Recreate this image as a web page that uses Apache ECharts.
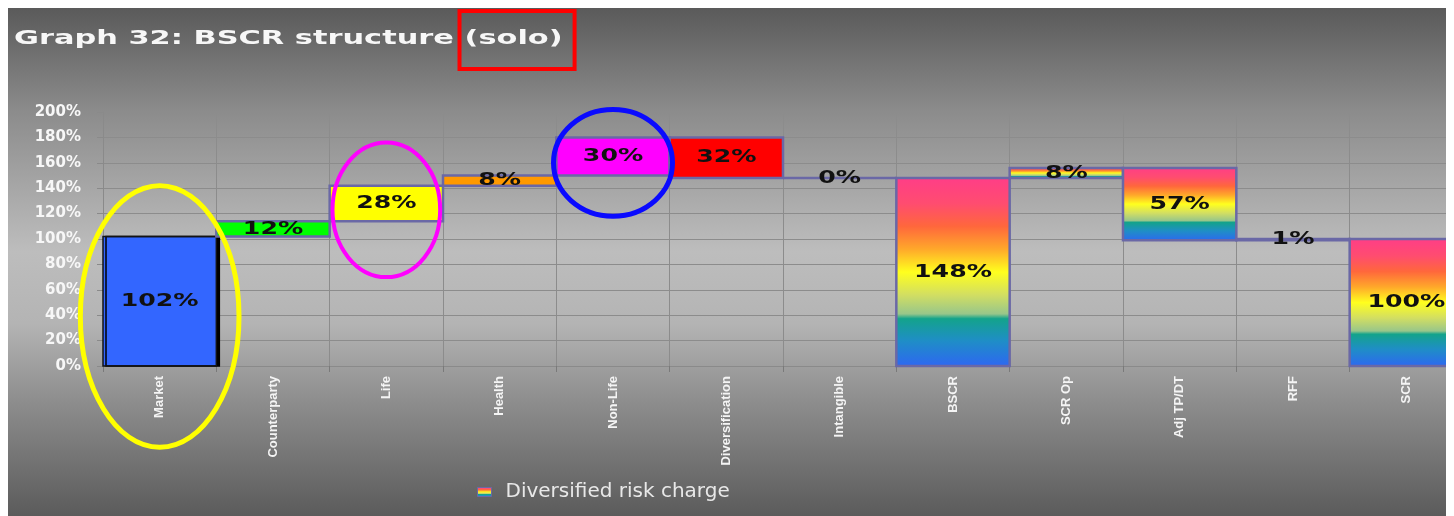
<!DOCTYPE html>
<html>
<head>
<meta charset="utf-8">
<title>BSCR structure</title>
<script src="https://cdn.jsdelivr.net/npm/echarts@6/dist/echarts.min.js"></script>
<style>
  html, body { overflow: hidden; background: #ffffff; }
  body { margin: 8px; }
  #chart { width: 1470px; height: 508px; }
</style>
</head>
<body>
<div id="chart"></div>
<script>
// ---- data -------------------------------------------------------------
const categories = ['Market', 'Counterparty', 'Life', 'Health', 'Non-Life', 'Diversification',
                    'Intangible', 'BSCR', 'SCR Op', 'Adj TP/DT', 'RFF', 'SCR'];
// change in % of SCR; totals restart from zero
const changes = [102, 12, 28, 8, 30, -32, 0, 148, 8, -57, 1, 100];
const isTotal = [false, false, false, false, false, false, false, true, false, false, false, true];
const yMin = 0;
const yMax = 200;
const yStep = 20;
const titleText = 'Graph 32: BSCR structure';
const titleNote = '(solo)';
const legendName = 'Diversified risk charge';
// circled items: category plus the value span the ring covers
const highlightCategories = ['Market', 'Life', 'Non-Life'];
const highlightLow = [-64, 70, 118];
const highlightHigh = [142, 176, 202];

// ---- styles -----------------------------------------------------------
const RAINBOW = 'rainbow';
const barFills = ['#3366ff', '#00ff00', '#ffff00', '#ff9900', '#ff00ff', '#ff0000',
                  'none', RAINBOW, RAINBOW, RAINBOW, RAINBOW, RAINBOW];
const ringColors = ['#ffff00', '#ff00ff', '#0a0aff'];
const ringWidths = [5, 4, 5];
const ringSpans = [1.4, 0.95, 1.05];
const edgeColor = '#6a68a6';
const wideFont = 'DejaVu Sans';
const titleSize = 19;
const titleStretch = 1.6;
const labelSize = 18;
const labelStretch = 1.4;

function rainbow() {
  return new echarts.graphic.LinearGradient(0, 0, 0, 1, [
    { offset: 0.00, color: '#ff3d88' },
    { offset: 0.14, color: '#ff4c70' },
    { offset: 0.26, color: '#ff673c' },
    { offset: 0.38, color: '#ffa82a' },
    { offset: 0.50, color: '#ffff1e' },
    { offset: 0.62, color: '#d2de62' },
    { offset: 0.72, color: '#98c68a' },
    { offset: 0.745, color: '#13a38b' },
    { offset: 0.86, color: '#1f8ec6' },
    { offset: 1.00, color: '#2e66f3' }
  ]);
}

// ---- waterfall ranges ------------------------------------------------
let running = 0;
const seriesData = categories.map((c, i) => {
  let lo, hi;
  if (isTotal[i]) {
    lo = 0; hi = changes[i]; running = changes[i];
  } else {
    const a = running, b = running + changes[i];
    running = b;
    lo = Math.min(a, b); hi = Math.max(a, b);
  }
  return [i, lo, hi, Math.abs(changes[i])];
});

const chart = echarts.init(document.getElementById('chart'), null, { renderer: 'canvas' });

const option = {
  animation: false,
  backgroundColor: new echarts.graphic.LinearGradient(0, 0, 0, 1, [
    { offset: 0.00, color: '#5a5a5a' },
    { offset: 0.20, color: '#8b8b8b' },
    { offset: 0.48, color: '#bdbdbd' },
    { offset: 0.62, color: '#b4b4b4' },
    { offset: 0.78, color: '#8c8c8c' },
    { offset: 1.00, color: '#5b5b5b' }
  ]),
  legend: {
    left: 464,
    top: 469,
    icon: 'rect',
    itemWidth: 14,
    itemHeight: 9,
    data: [{ name: legendName, itemStyle: { color: rainbow(), borderColor: edgeColor, borderWidth: 1 } }],
    textStyle: { color: '#e8e8e8', fontSize: 20, fontFamily: wideFont, padding: [0, 0, 0, 9] }
  },
  grid: { left: 95, right: 15, top: 104, bottom: 150 },
  xAxis: {
    type: 'category',
    data: categories,
    boundaryGap: true,
    axisLine: { show: true, lineStyle: { color: '#8a8a8a', width: 1 } },
    axisTick: { show: true, length: 6, lineStyle: { color: '#7a7a7a' } },
    splitLine: { show: true, lineStyle: { color: '#8c8c8c', width: 1 } },
    axisLabel: {
      rotate: 90,
      margin: 10,
      color: '#f4f4f4',
      fontSize: 13,
      fontWeight: 'bold',
      fontFamily: "'Liberation Sans', Arial, sans-serif"
    }
  },
  yAxis: {
    type: 'value',
    min: yMin,
    max: yMax,
    interval: yStep,
    axisLine: { show: true, lineStyle: { color: '#8a8a8a' } },
    axisTick: { show: true, length: 6, lineStyle: { color: '#8a8a8a' } },
    splitLine: { show: true, lineStyle: { color: '#8c8c8c', width: 1 } },
    axisLabel: {
      formatter: '{value}%',
      margin: 22,
      color: '#f7f7f7',
      fontSize: 15,
      fontWeight: 'bold',
      fontFamily: wideFont
    }
  },
  series: [{
    name: legendName,
    type: 'custom',
    itemStyle: { color: rainbow() },
    encode: { x: 0, y: [1, 2] },
    data: seriesData,
    renderItem: function (params, api) {
      const i = params.dataIndex;
      const top = api.coord([i, api.value(2)]);
      const bottom = api.coord([i, api.value(1)]);
      const w = api.size([1, 0])[0];
      const fillKey = barFills[i];
      const isFirst = i === 0;
      return {
        type: 'group',
        children: [
          {
            type: 'rect',
            shape: { x: top[0] - w / 2, y: top[1], width: w, height: bottom[1] - top[1] },
            style: {
              fill: fillKey === RAINBOW ? rainbow() : fillKey,
              stroke: isFirst ? '#141414' : edgeColor,
              lineWidth: isFirst ? 1.5 : 2.5,
              shadowColor: isFirst ? '#000000' : 'transparent',
              shadowOffsetX: isFirst ? 3 : 0,
              shadowBlur: 0
            }
          },
          {
            type: 'text',
            x: top[0],
            y: (top[1] + bottom[1]) / 2,
            scaleX: labelStretch,
            z2: 10,
            style: {
              text: api.value(3) + '%',
              fill: '#111111',
              fontFamily: wideFont,
              fontWeight: 'bold',
              fontSize: labelSize,
              align: 'center',
              verticalAlign: 'middle'
            }
          }
        ]
      };
    }
  }]
};

chart.setOption(option);

// title, drawn wide, with a red frame around the note
const measureCtx = document.createElement('canvas').getContext('2d');
measureCtx.font = 'bold ' + titleSize + 'px "' + wideFont + '"';
const titleX = 6, titleY = 31;
const noteStart = titleX + measureCtx.measureText(titleText + ' ').width * titleStretch;
const noteEnd = titleX + measureCtx.measureText(titleText + ' ' + titleNote).width * titleStretch;

const titleGraphics = [
  {
    type: 'text',
    x: titleX,
    y: titleY,
    scaleX: titleStretch,
    z: 50,
    style: {
      text: titleText + ' ' + titleNote,
      fill: '#f7f7f7',
      fontFamily: wideFont,
      fontWeight: 'bold',
      fontSize: titleSize,
      align: 'left',
      verticalAlign: 'middle'
    }
  },
  {
    type: 'rect',
    z: 60,
    shape: { x: noteStart - 5, y: titleY - 28, width: noteEnd - noteStart + 17, height: 58 },
    style: { fill: 'none', stroke: '#ff0000', lineWidth: 4 }
  }
];

// rings drawn around selected bars, placed through the chart's own scales
const catWidth = chart.convertToPixel({ seriesIndex: 0 }, [1, 0])[0] -
                 chart.convertToPixel({ seriesIndex: 0 }, [0, 0])[0];
const rings = highlightCategories.map((name, k) => {
  const idx = categories.indexOf(name);
  const hi = chart.convertToPixel({ seriesIndex: 0 }, [idx, highlightHigh[k]]);
  const lo = chart.convertToPixel({ seriesIndex: 0 }, [idx, highlightLow[k]]);
  return {
    type: 'ellipse',
    z: 100,
    shape: { cx: hi[0], cy: (hi[1] + lo[1]) / 2, rx: catWidth * ringSpans[k] / 2, ry: (lo[1] - hi[1]) / 2 },
    style: { fill: 'none', stroke: ringColors[k], lineWidth: ringWidths[k] }
  };
});
chart.setOption({ graphic: titleGraphics.concat(rings) });
</script>
</body>
</html>
